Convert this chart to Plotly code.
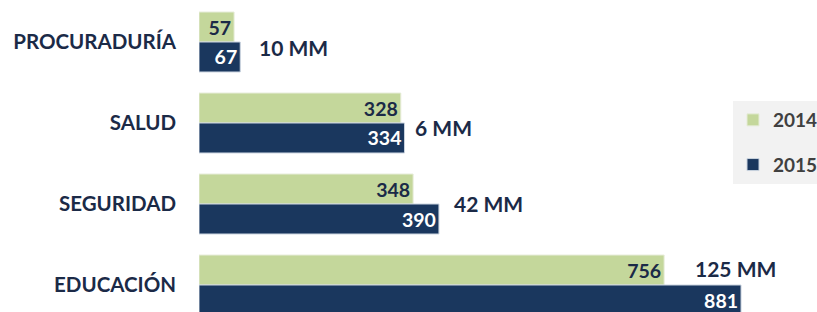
import plotly.graph_objects as go

categories = ["PROCURADURÍA", "SALUD", "SEGURIDAD", "EDUCACIÓN"]
values_2014 = [57, 328, 348, 756]
values_2015 = [67, 334, 390, 881]
diff_labels = [f"{b - a} MM" for a, b in zip(values_2014, values_2015)]

# label placement offsets (pixels) relative to end of 2015 bar / category centre
ann_xshift = [17, 9, 13, -48]
ann_yshift = [-5, -4, 1, 17]

GREEN = "#c4d79b"
NAVY = "#1a375e"
TEXT = "#1b2a47"
FONT = "Lato"

fig = go.Figure()
fig.add_trace(go.Bar(
    y=categories, x=values_2014, orientation="h", name="2014",
    marker=dict(color=GREEN, line=dict(color="#e6ecd8", width=1)),
    text=[str(v) for v in values_2014], textposition="inside",
    insidetextanchor="end",
    insidetextfont=dict(family=FONT, size=19.5, color=TEXT, weight="bold"),
    legendgroup="a",
))
fig.add_trace(go.Bar(
    y=categories, x=values_2015, orientation="h", name="2015",
    marker=dict(color=NAVY, line=dict(color="#c9d3df", width=1)),
    text=[str(v) for v in values_2015], textposition="inside",
    insidetextanchor="end",
    insidetextfont=dict(family=FONT, size=19.5, color="white", weight="bold"),
    legendgroup="b",
))

for cat, xv, lab, dx, dy in zip(categories, values_2015, diff_labels, ann_xshift, ann_yshift):
    fig.add_annotation(
        x=xv, y=cat, text=lab, showarrow=False, xanchor="left", yanchor="middle",
        xshift=dx, yshift=dy,
        font=dict(family=FONT, size=21, color=TEXT, weight="bold"),
    )

fig.update_layout(
    width=817, height=312,
    margin=dict(l=199, r=0, t=0, b=0, autoexpand=False),
    paper_bgcolor="white", plot_bgcolor="white",
    barmode="group", bargap=0.26, bargroupgap=0.0,
    showlegend=True,
    legend=dict(
        xref="container", yref="container",
        x=733 / 817, xanchor="left",
        y=1 - 101 / 312, yanchor="top",
        bgcolor="#f2f2f2",
        font=dict(family=FONT, size=19, color="#404040", weight="bold"),
        traceorder="grouped", tracegroupgap=17,
    ),
    xaxis=dict(range=[0, 1004.5], visible=False, fixedrange=True),
    yaxis=dict(
        categoryorder="array", categoryarray=categories,
        range=[3.333, -0.5185], automargin=False, fixedrange=True,
        showgrid=False, zeroline=False, showline=False, ticks="",
        ticklabelstandoff=22,
        tickfont=dict(family=FONT, size=20.5, color=TEXT, weight="bold"),
    ),
)

fig.write_html(
    "out.html",
    config={"displayModeBar": False},
    post_script="document.body.style.margin='0';document.body.style.overflow='hidden';",
)
